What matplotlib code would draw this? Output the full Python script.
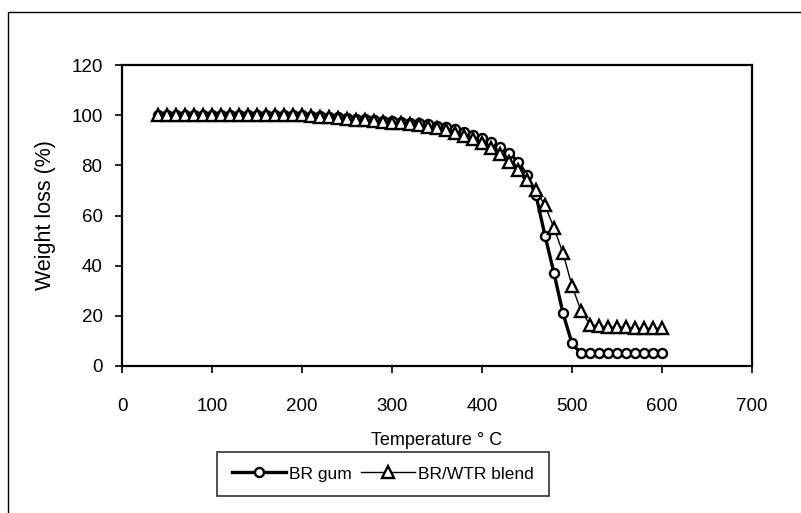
import numpy as np
import matplotlib
matplotlib.use("Agg")
from matplotlib import pyplot as plt
from matplotlib.patches import Rectangle

plt.rcParams['font.family'] = ['Liberation Sans', 'DejaVu Sans']

# temperature steps (deg C)
temp = list(range(40, 610, 10))

# BR gum weight (%)
br_gum = [100.0, 100.0, 100.0, 100.0, 100.0, 100.0, 100.0, 100.0, 100.0, 100.0,
          100.0, 100.0, 100.0, 100.0, 100.0, 100.0, 100.0, 99.8, 99.6, 99.3,
          99.1, 98.8, 98.6, 98.3, 98.1, 97.8, 97.6, 97.3, 97.0, 96.7,
          96.3, 95.8, 95.2, 94.4, 93.4, 92.2, 91.0, 89.5, 87.5, 85.0,
          81.5, 76.0, 68.0, 52.0, 37.0, 21.0, 9.0, 5.0, 5.0, 5.0,
          5.0, 5.0, 5.0, 5.0, 5.0, 5.0, 5.0]

# BR/WTR blend weight (%)
br_wtr = [100.0, 100.0, 100.0, 100.0, 100.0, 100.0, 100.0, 100.0, 100.0, 100.0,
          100.0, 100.0, 100.0, 100.0, 100.0, 100.0, 100.0, 99.7, 99.4, 99.1,
          98.8, 98.5, 98.2, 97.9, 97.6, 97.3, 97.0, 96.7, 96.3, 95.9,
          95.4, 94.8, 94.0, 93.0, 91.8, 90.4, 89.0, 87.0, 84.5, 81.5,
          78.0, 74.0, 70.0, 64.0, 55.0, 45.0, 32.0, 22.0, 16.5, 16.0,
          15.5, 15.5, 15.5, 15.0, 15.0, 15.0, 15.0]

W, H = 801, 513
fig = plt.figure(figsize=(W / 100, H / 100), dpi=100)
ax = fig.add_axes([122 / W, 1 - 366 / H, (752 - 122) / W, (366 - 65) / H])

ax.plot(temp, br_gum, color='black', lw=2.4, marker='o', ms=6.5,
        mfc='white', mec='black', mew=1.7, label='BR gum', zorder=3)
ax.plot(temp, br_wtr, color='black', lw=1.0, marker='^', ms=8,
        mfc='white', mec='black', mew=1.7, label='BR/WTR blend', zorder=4)

ax.set_xlim(0, 700)
ax.set_ylim(0, 120)
ax.set_xticks(range(0, 701, 100))
ax.set_yticks(range(0, 121, 20))
ax.tick_params(axis='both', direction='out', length=5, width=1.2, labelsize=13.5)
ax.tick_params(axis='x', pad=18)
ax.tick_params(axis='y', pad=9)
for s in ax.spines.values():
    s.set_linewidth(1.6)

ax.set_xlabel('Temperature \u00b0 C', fontsize=13, labelpad=12)
ax.set_ylabel('Weight loss (%)', fontsize=15.5, labelpad=11)

leg = ax.legend(loc='center', bbox_to_anchor=(383 / W, 1 - 474 / H),
                bbox_transform=fig.transFigure, ncol=2, frameon=True,
                fancybox=False, edgecolor='black', fontsize=12.5,
                handlelength=3.1, handletextpad=0.2, columnspacing=0.5,
                borderpad=0.85, borderaxespad=0)
leg.get_frame().set_linewidth(1.2)

# outer chart frame (only left and top edge visible in the scan)
fig.patches.append(Rectangle((8 / W, -0.05), 1.1, 1 - 12 / H + 0.05,
                             transform=fig.transFigure, fill=False,
                             edgecolor='black', lw=1.0))

fig.savefig('out.png', dpi=100)
